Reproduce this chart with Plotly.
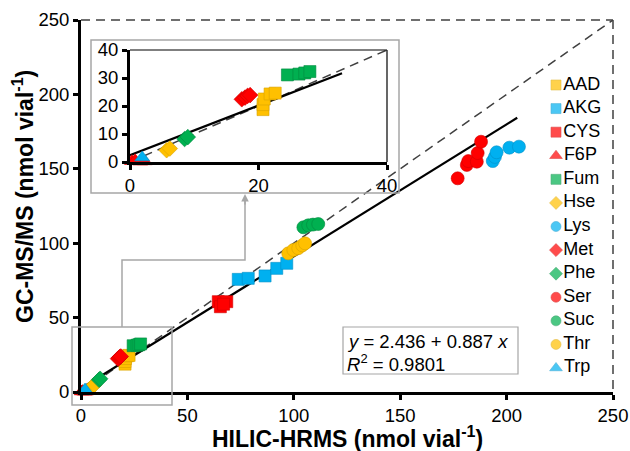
import plotly.graph_objects as go

# ---------------- data ----------------
AAD_x = [20.7, 20.7, 20.9, 21.8, 22.6]
AAD_y = [18.7, 20.5, 22.5, 24.3, 24.6]
AKG_x = [73.9, 78.6, 86.5, 92.0, 96.7]
AKG_y = [75.7, 76.4, 78.0, 83.1, 86.5]
CYS_x = [64.5, 68.5, 65.5, 67.0]
CYS_y = [60.7, 60.7, 57.3, 59.0]
F6P_x = [0.3, 0.8, 1.6, 2.3]
F6P_y = [0.3, 0.6, 0.1, 0.2]
Fum_x = [24.5, 26.3, 27.2, 28.0]
Fum_y = [31.1, 31.4, 31.8, 32.3]
Hse_x = [5.7, 6.2]
Hse_y = [4.2, 4.8]
Lys_x = [193.5, 194.5, 195.3, 201.3, 205.8]
Lys_y = [155.2, 158.0, 161.1, 164.2, 164.9]
Met_x = [17.4, 17.9, 18.3, 18.7]
Met_y = [22.4, 23.0, 23.6, 23.9]
Phe_x = [8.5, 9.0]
Phe_y = [8.2, 8.9]
Ser_x = [177.0, 181.3, 182.0, 186.0, 186.4, 188.0]
Ser_y = [143.6, 152.6, 155.2, 154.8, 160.6, 168.2]
Suc_x = [104.5, 106.8, 109.0, 111.5]
Suc_y = [110.7, 112.0, 112.5, 112.9]
Thr_x = [97.4, 99.8, 102.1, 104.0, 105.3]
Thr_y = [93.2, 95.4, 96.6, 98.5, 99.9]
Trp_x = [1.9]
Trp_y = [1.6]

fit_intercept = 2.436
fit_slope = 0.887
fit_r2 = 0.9801
fit_x_main = [0, 205]
fit_x_inset = [0, 33]
one_to_one_main = [0, 250]
one_to_one_inset = [0, 40]

main_ticks = [0, 50, 100, 150, 200, 250]
inset_xticks = [0, 20, 40]
inset_yticks = [0, 10, 20, 30, 40]

x_title = "<b>HILIC-HRMS (nmol vial<sup>-1</sup>)</b>"
y_title = "<b>GC-MS/MS (nmol vial<sup>-1</sup>)</b>"

YEL = "#FFC000"
BLU = "#00B0F0"
RED = "#FF0000"
GRN = "#00B050"
EDGE = {YEL: "#D9A300", BLU: "#0090C8", RED: "#D00000", GRN: "#008A40"}

series = [
    ("AAD", AAD_x, AAD_y, "square", YEL, 12),
    ("AKG", AKG_x, AKG_y, "square", BLU, 12),
    ("CYS", CYS_x, CYS_y, "square", RED, 12),
    ("F6P", F6P_x, F6P_y, "triangle-up", RED, 13),
    ("Fum", Fum_x, Fum_y, "square", GRN, 12),
    ("Hse", Hse_x, Hse_y, "diamond", YEL, 12),
    ("Lys", Lys_x, Lys_y, "circle", BLU, 13),
    ("Met", Met_x, Met_y, "diamond", RED, 12),
    ("Phe", Phe_x, Phe_y, "diamond", GRN, 12),
    ("Ser", Ser_x, Ser_y, "circle", RED, 13),
    ("Suc", Suc_x, Suc_y, "circle", GRN, 13),
    ("Thr", Thr_x, Thr_y, "circle", YEL, 13),
    ("Trp", Trp_x, Trp_y, "triangle-up", BLU, 13),
]

W, H = 630, 451
FONT = "Liberation Sans, Arial, sans-serif"
TICK = 18.5

def px(x):
    return x / W

def py(y):
    return 1 - y / H

# plot area pixel geometry
MX0, MX1, MY0, MY1 = 81, 613, 392, 20      # main
IX0, IX1, IY0, IY1 = 130, 387, 162, 50     # inset
LG_TOP, LG_BOT = 85, 368                   # legend first / last row centres

fig = go.Figure()

# main reference lines
fig.add_trace(go.Scatter(x=one_to_one_main, y=one_to_one_main, mode="lines",
                         line=dict(color="#404040", width=1.5, dash="9px,6px"),
                         showlegend=False, hoverinfo="skip"))
fig.add_trace(go.Scatter(x=fit_x_main, y=[fit_intercept + fit_slope * v for v in fit_x_main],
                         mode="lines", line=dict(color="black", width=2.2),
                         showlegend=False, hoverinfo="skip"))

# inset reference lines
fig.add_trace(go.Scatter(x=one_to_one_inset, y=one_to_one_inset, mode="lines",
                         line=dict(color="#404040", width=1.5, dash="9px,6px"),
                         xaxis="x2", yaxis="y2", showlegend=False, hoverinfo="skip"))
fig.add_trace(go.Scatter(x=fit_x_inset, y=[fit_intercept + fit_slope * v for v in fit_x_inset],
                         mode="lines", line=dict(color="black", width=2.2),
                         xaxis="x2", yaxis="y2", showlegend=False, hoverinfo="skip"))

for i, (name, xs, ys, sym, col, sz) in enumerate(series):
    mk = dict(symbol=sym, color=col, size=sz, line=dict(color=EDGE[col], width=0.6))
    fig.add_trace(go.Scatter(x=xs, y=ys, mode="markers", name=name, marker=mk,
                             cliponaxis=False, showlegend=False))
    fig.add_trace(go.Scatter(x=[v for v in xs if v <= 40], y=[ys[k] for k, v in enumerate(xs) if v <= 40],
                             mode="markers", name=name, marker=mk, cliponaxis=False,
                             xaxis="x2", yaxis="y2", showlegend=False))

# legend drawn as a marker+text trace on its own hidden axes
names = [s[0] for s in series]
fig.add_trace(go.Scatter(
    x=[0] * len(series), y=list(range(len(series))), mode="markers+text",
    text=names, textposition="middle right",
    textfont=dict(family=FONT, size=18, color="black"),
    marker=dict(symbol=[s[3] for s in series], color=[s[4] for s in series],
                size=[11 if s[3] == "triangle-up" else 10 for s in series],
                line=dict(color=[EDGE[s[4]] for s in series], width=0.6)),
    xaxis="x3", yaxis="y3", showlegend=False, hoverinfo="skip", cliponaxis=False))

axis_common = dict(showgrid=False, zeroline=False, showline=True, linecolor="black",
                   linewidth=3, ticks="outside", ticklen=5, tickwidth=3, tickcolor="black",
                   tickfont=dict(family=FONT, size=TICK, color="black"))

shapes = [
    # dashed top/right frame of main plot
    dict(type="line", xref="paper", yref="paper", x0=px(MX0), x1=px(MX1), y0=py(MY1), y1=py(MY1),
         line=dict(color="#404040", width=1.5, dash="9px,6px")),
    dict(type="line", xref="paper", yref="paper", x0=px(MX1), x1=px(MX1), y0=py(MY1), y1=py(MY0),
         line=dict(color="#404040", width=1.5, dash="9px,6px")),
    # inset outer gray box
    dict(type="rect", xref="paper", yref="paper", x0=px(91), x1=px(399), y0=py(193), y1=py(40),
         line=dict(color="#A6A6A6", width=1.5)),
    # inset thin top/right frame
    dict(type="line", xref="paper", yref="paper", x0=px(IX0), x1=px(IX1), y0=py(IY1), y1=py(IY1),
         line=dict(color="black", width=1.2)),
    dict(type="line", xref="paper", yref="paper", x0=px(IX1), x1=px(IX1), y0=py(IY1), y1=py(IY0),
         line=dict(color="black", width=1.2)),
    # callout rectangle on main plot
    dict(type="rect", xref="paper", yref="paper", x0=px(72), x1=px(172), y0=py(405), y1=py(327),
         line=dict(color="#A6A6A6", width=1.5)),
    # connector path
    dict(type="path", xref="paper", yref="paper",
         path=f"M {px(122)} {py(327)} L {px(122)} {py(260)} L {px(245)} {py(260)} L {px(245)} {py(200)}",
         line=dict(color="#A6A6A6", width=1.5)),
    # equation box
    dict(type="rect", xref="paper", yref="paper", x0=px(343), x1=px(518), y0=py(374), y1=py(327),
         line=dict(color="#A6A6A6", width=1.2), fillcolor="white", layer="below"),
]

annotations = [
    dict(xref="paper", yref="paper", x=px(245), y=py(194), ax=0, ay=12,
         axref="pixel", ayref="pixel", showarrow=True, arrowhead=2, arrowsize=1,
         arrowwidth=1.5, arrowcolor="#A6A6A6", text=""),
    dict(xref="paper", yref="paper", x=px(345), y=py(341), xanchor="left", yanchor="middle",
         showarrow=False, text=f"<i>y</i> = {fit_intercept} + {fit_slope} <i>x</i>",
         font=dict(family=FONT, size=18.5, color="black")),
    dict(xref="paper", yref="paper", x=px(345), y=py(362.5), xanchor="left", yanchor="middle",
         showarrow=False, text=f"<i>R</i><sup>2</sup> = {fit_r2}",
         font=dict(family=FONT, size=18.5, color="black")),
    # axis titles
    dict(xref="paper", yref="paper", x=px((MX0 + MX1) / 2), y=py(436.5), xanchor="center",
         yanchor="middle", showarrow=False, text=x_title,
         font=dict(family=FONT, size=23, color="black")),
    dict(xref="paper", yref="paper", x=px(23), y=py(197), xanchor="center",
         yanchor="middle", showarrow=False, text=y_title, textangle=-90,
         font=dict(family=FONT, size=23, color="black")),
]

n = len(series)
unit = (LG_BOT - LG_TOP) / (n - 1)

fig.update_layout(
    width=W, height=H, margin=dict(l=0, r=0, t=0, b=0, autoexpand=False),
    paper_bgcolor="white", plot_bgcolor="rgba(0,0,0,0)",
    font=dict(family=FONT, color="black"),
    xaxis=dict(domain=[px(MX0), px(MX1)], range=[0, 250], tickvals=main_ticks, **axis_common),
    yaxis=dict(domain=[py(MY0), py(MY1)], range=[0, 250], tickvals=main_ticks, **axis_common),
    xaxis2=dict(domain=[px(IX0), px(IX1)], range=[0, 40], tickvals=inset_xticks,
                anchor="y2", **axis_common),
    yaxis2=dict(domain=[py(IY0), py(IY1)], range=[0, 40], tickvals=inset_yticks,
                anchor="x2", **axis_common),
    xaxis3=dict(domain=[px(546), px(626)], range=[-10, 70], visible=False, anchor="y3"),
    yaxis3=dict(domain=[py(LG_BOT + unit / 2), py(LG_TOP - unit / 2)],
                range=[n - 0.5, -0.5], visible=False, anchor="x3"),
    shapes=shapes, annotations=annotations, showlegend=False,
)

fig.write_html("out.html")
